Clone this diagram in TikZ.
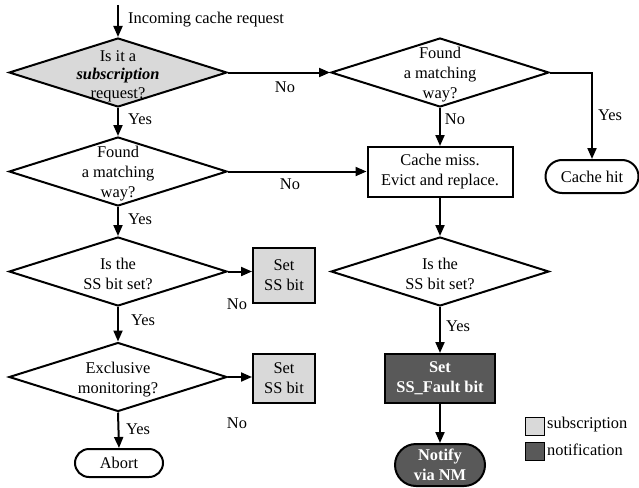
\documentclass[tikz,border=0pt]{standalone}
\usepackage{fontspec}
\setmainfont{Liberation Serif}
\usetikzlibrary{shapes.geometric,shapes.misc,arrows.meta}
\definecolor{lgray}{HTML}{D9D9D9}
\definecolor{dgray}{HTML}{595959}
\begin{document}
\begin{tikzpicture}[x=1pt,y=-1pt,
  every node/.style={font=\fontsize{16.4}{20}\selectfont},
  dia/.style={diamond, draw, line width=2pt, inner sep=0pt, minimum width=218pt, minimum height=69pt},
  dtext/.style={align=center, inner sep=0pt},
  stepbox/.style={rectangle, draw, line width=2pt, align=center, inner sep=0pt},
  term/.style={rounded rectangle, draw, line width=2pt, align=center, inner sep=0pt},
  lbl/.style={inner sep=0pt},
  arr/.style={line width=2pt, -{Triangle[length=11pt,width=9pt]}},
  legbox/.style={rectangle, draw, line width=1pt, minimum width=19pt, minimum height=18pt, inner sep=0pt}
]
\useasboundingbox (0,0) rectangle (639,487);

% left column
\coordinate (in) at (118,5);
\node[lbl, anchor=west] (inlbl) at (128,20) {Incoming cache request};
\node[dia, fill=lgray] (d1) at (118,72.5) {};
\node[dtext, font=\fontsize{16.4}{18.5}\selectfont] (d1t) at (118,76) {Is it a\\\textbf{\textit{subscription}}\\request?};
\node[dia] (d2) at (118,171.5) {};
\node[dtext] (d2t) at (118,174) {Found\\a matching\\way?};
\node[dia] (d3) at (118,271.5) {};
\node[dtext] (d3t) at (118,274) {Is the\\SS bit set?};
\node[dia] (d4) at (118,377) {};
\node[dtext] (d4t) at (118,380) {Exclusive\\monitoring?};
\node[term, minimum width=88pt, minimum height=28pt] (abort) at (119,463) {Abort};

\node[stepbox, fill=lgray, minimum width=62pt, minimum height=55pt] (s1) at (284,275.5) {Set\\SS bit};
\node[stepbox, fill=lgray, minimum width=62pt, minimum height=49pt] (s2) at (284,378.5) {Set\\SS bit};

% right column
\node[dia] (r1) at (440,72.5) {};
\node[dtext] (r1t) at (440,75) {Found\\a matching\\way?};
\node[stepbox, minimum width=145pt, minimum height=50pt] (miss) at (440,172) {Cache miss.\\Evict and replace.};
\node[term, minimum width=93pt, minimum height=33pt] (hit) at (592,176.5) {Cache hit};
\node[dia] (r2) at (440,271.5) {};
\node[dtext] (r2t) at (440,274) {Is the\\SS bit set?};
\node[stepbox, fill=dgray, text=white, font=\fontsize{16.4}{20}\selectfont\bfseries, minimum width=110pt, minimum height=49pt] (fault) at (440,378.5) {Set\\SS\_Fault bit};
\node[term, fill=dgray, text=white, font=\fontsize{16.4}{20}\selectfont\bfseries, minimum width=90pt, minimum height=42pt] (notify) at (440,465) {Notify\\via NM};

% legend
\node[legbox, fill=lgray] (leg1) at (535,426) {};
\node[lbl, anchor=west] (leg1t) at (547,425) {subscription};
\node[legbox, fill=dgray] (leg2) at (535,451) {};
\node[lbl, anchor=west] (leg2t) at (547,450) {notification};

% connectors
\draw[arr] (in) -- (d1.north);
\draw[arr] (d1.east) -- (r1.west);
\draw[arr] (r1.east) -| (hit.north);
\draw[arr] (r1.south) -- (miss.north);
\draw[arr] (d1.south) -- (d2.north);
\draw[arr] (d2.east) -- (d2.east -| miss.west);
\draw[arr] (miss.south) -- (r2.north);
\draw[arr] (d2.south) -- (d3.north);
\draw[arr] (d3.east) -- (d3.east -| s1.west);
\draw[arr] (d3.south) -- (d4.north);
\draw[arr] (d4.east) -- (d4.east -| s2.west);
\draw[arr] (d4.south) -- (abort.north);
\draw[arr] (r2.south) -- (fault.north);
\draw[arr] (fault.south) -- (notify.north);

% edge labels
\node[lbl] (l1) at (285,87) {No};
\node[lbl] (l2) at (610,115) {Yes};
\node[lbl] (l3) at (455,119) {No};
\node[lbl] (l4) at (140,119) {Yes};
\node[lbl] (l5) at (290,184) {No};
\node[lbl] (l6) at (140,219) {Yes};
\node[lbl] (l7) at (237,304) {No};
\node[lbl] (l8) at (143,320) {Yes};
\node[lbl] (l9) at (237,423) {No};
\node[lbl] (l10) at (138,429) {Yes};
\node[lbl] (l11) at (458,326) {Yes};
\end{tikzpicture}
\end{document}
